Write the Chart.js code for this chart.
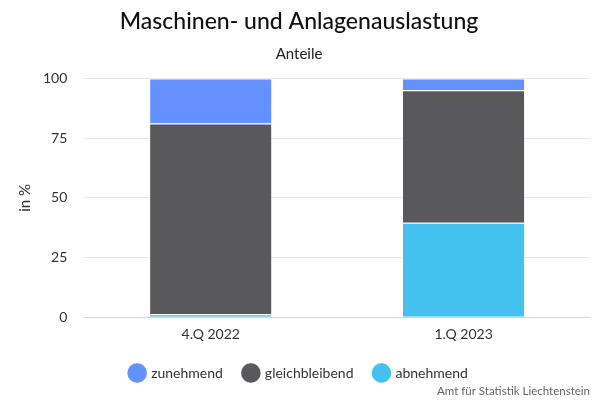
<!DOCTYPE html>
<html><head><meta charset="utf-8">
<script src="https://cdn.jsdelivr.net/npm/chart.js@4"></script>
<style>html,body{margin:0;padding:0;background:#fff}#w{width:600px;height:400px;position:relative}</style>
</head><body><div id="w"><canvas id="c"></canvas></div>
<script>
const categories = ['4.Q 2022', '1.Q 2023'];
const abnehmend = [1.2, 39.6];
const gleichbleibend = [80.0, 55.5];
const zunehmend = [18.8, 4.9];
const yTicks = [0, 25, 50, 75, 100];

const FONT = 'Lato';
Chart.defaults.font.family = FONT;
Chart.defaults.color = '#333';

const credit = {
  id: 'credit',
  afterDraw(chart) {
    const ctx = chart.ctx;
    ctx.save();
    ctx.font = '11.5px ' + FONT;
    ctx.fillStyle = '#666';
    ctx.textAlign = 'right';
    ctx.textBaseline = 'middle';
    ctx.fillText('Amt für Statistik Liechtenstein', 590, 391);
    ctx.restore();
  }
};

const bw = {top: 1, left: 0, right: 0, bottom: 0};

new Chart(document.getElementById('c'), {
  type: 'bar',
  data: {
    labels: categories,
    datasets: [
      {label: 'abnehmend', data: abnehmend, backgroundColor: '#45c1f0', borderColor: '#fff', borderWidth: bw, borderSkipped: false},
      {label: 'gleichbleibend', data: gleichbleibend, backgroundColor: '#59595b', borderColor: '#fff', borderWidth: bw, borderSkipped: false},
      {label: 'zunehmend', data: zunehmend, backgroundColor: '#6391ff', borderColor: '#fff', borderWidth: bw, borderSkipped: false}
    ]
  },
  options: {
    responsive: true,
    maintainAspectRatio: false,
    animation: false,
    layout: {padding: {left: 8, right: 10, top: 4, bottom: 10}},
    datasets: {bar: {categoryPercentage: 1.0, barPercentage: 0.48}},
    plugins: {
      title: {display: true, text: 'Maschinen- und Anlagenauslastung', font: {size: 23, weight: '500'}, color: '#111', padding: {top: 4, bottom: 10}, align: 'center'},
      subtitle: {display: true, text: 'Anteile', font: {size: 15}, color: '#222', padding: {bottom: 15}},
      legend: {position: 'bottom', reverse: true, labels: {usePointStyle: true, pointStyle: 'circle', boxWidth: 14, boxHeight: 14, padding: 21, font: {size: 14}, color: '#333'}},
      tooltip: {enabled: false}
    },
    scales: {
      x: {stacked: true, grid: {display: false, drawTicks: false}, border: {color: '#ccd6eb'},
          ticks: {font: {size: 14}, color: '#333', padding: 9},
          afterFit(s) { s.height -= 7; }},
      y: {stacked: true, min: 0, max: 100, afterBuildTicks(s) { s.ticks = yTicks.map(v => ({value: v})); },
          grid: {color: '#e6e6e6', drawTicks: false}, border: {display: false},
          ticks: {font: {size: 14}, color: '#333', padding: 17},
          afterFit(s) { s.width -= 17; },
          title: {display: true, text: 'in %', font: {size: 15}, color: '#333', padding: {top: 8, bottom: 9}}}
    }
  },
  plugins: [credit]
});
</script></body></html>
